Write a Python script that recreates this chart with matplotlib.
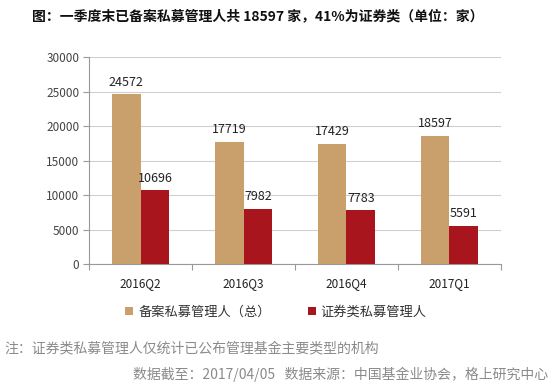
import matplotlib.pyplot as plt
import numpy as np

plt.rcParams['font.family'] = ['Noto Sans CJK SC', 'DejaVu Sans']

quarters = ['2016Q2', '2016Q3', '2016Q4', '2017Q1']
total = [24572, 17719, 17429, 18597]
sec = [10696, 7982, 7783, 5591]
yticks = [0, 5000, 10000, 15000, 20000, 25000, 30000]

tan = '#C9A06C'
red = '#A8151C'

fig = plt.figure(figsize=(5.54, 3.85), dpi=100)
ax = fig.add_axes([0.161, 0.314, 0.743, 0.538])

x = np.arange(len(quarters))
w = 0.28
b1 = ax.bar(x - w / 2, total, w, color=tan, label='备案私募管理人（总）', zorder=3)
b2 = ax.bar(x + w / 2, sec, w, color=red, label='证券类私募管理人', zorder=3)

for i in range(len(x)):
    ax.text(x[i] - w / 2, total[i] + 800, str(total[i]), ha='center', va='bottom', fontsize=9, color='#222222')
    ax.text(x[i] + w / 2, sec[i] + 800, str(sec[i]), ha='center', va='bottom', fontsize=9, color='#222222')

ax.set_xlim(-0.5, 3.5)
ax.set_ylim(0, 30000)
ax.set_yticks(yticks)
ax.set_yticklabels([str(v) for v in yticks], fontsize=8.5, color='#444444')
ax.yaxis.grid(True, color='#D0D0D0', lw=0.8, zorder=0)
ax.set_xticks([-0.5, 0.5, 1.5, 2.5, 3.5])
ax.set_xticklabels([])
ax.set_xticks(x, minor=True)
ax.set_xticklabels(quarters, minor=True, fontsize=8.5, color='#222222')
ax.tick_params(axis='x', which='major', length=4, color='#999999', direction='out')
ax.tick_params(axis='x', which='minor', length=0, pad=9)
ax.tick_params(axis='y', length=4, color='#999999', pad=3)
for s in ['top', 'right']:
    ax.spines[s].set_visible(False)
ax.spines['left'].set_color('#999999')
ax.spines['bottom'].set_color('#999999')

fig.legend(handles=[b1, b2], loc='center', bbox_to_anchor=(0.498, 0.19), ncol=2,
           frameon=False, fontsize=9.5, handlelength=0.6, handleheight=0.6,
           columnspacing=2.8, handletextpad=0.4, labelcolor='#333333')

fig.text(0.465, 0.958, '图：一季度末已备案私募管理人共 18597 家，41%为证券类（单位：家）',
         ha='center', va='center', fontsize=10, fontweight='bold', color='#111111')
fig.text(0.008, 0.096, '注：证券类私募管理人仅统计已公布管理基金主要类型的机构',
         ha='left', va='center', fontsize=10, color='#8A8A8A')
fig.text(0.24, 0.027, '数据截至：2017/04/05   数据来源：中国基金业协会，格上研究中心',
         ha='left', va='center', fontsize=10, color='#8A8A8A')

fig.savefig('out.png', dpi=100)
